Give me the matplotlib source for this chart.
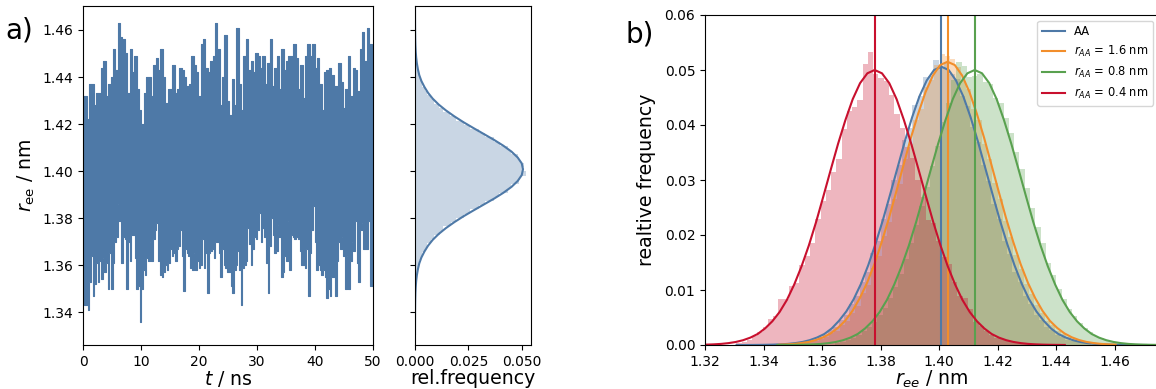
import numpy as np
import matplotlib.pyplot as plt

# ---------------- a) r_ee trace, upper / lower envelope ----------------
r_hi = [1.432, 1.432, 1.422, 1.437, 1.437, 1.428, 1.433, 1.433, 1.444, 1.447, 1.432, 1.437, 1.440,
        1.452, 1.443, 1.463, 1.457, 1.456, 1.450, 1.433, 1.452, 1.442, 1.449, 1.435, 1.426, 1.420,
        1.433, 1.440, 1.440, 1.432, 1.445, 1.448, 1.443, 1.452, 1.440, 1.429, 1.435, 1.435, 1.445,
        1.433, 1.435, 1.444, 1.443, 1.440, 1.436, 1.437, 1.449, 1.445, 1.442, 1.432, 1.454, 1.456,
        1.444, 1.442, 1.447, 1.449, 1.463, 1.452, 1.428, 1.440, 1.458, 1.430, 1.424, 1.439, 1.428,
        1.461, 1.437, 1.426, 1.449, 1.456, 1.443, 1.447, 1.442, 1.450, 1.449, 1.444, 1.449, 1.437,
        1.446, 1.456, 1.436, 1.444, 1.449, 1.435, 1.452, 1.443, 1.447, 1.449, 1.449, 1.454, 1.448,
        1.435, 1.445, 1.431, 1.449, 1.454, 1.449, 1.454, 1.444, 1.448, 1.437, 1.426, 1.442, 1.443,
        1.444, 1.441, 1.436, 1.436, 1.446, 1.438, 1.427, 1.435, 1.449, 1.432, 1.444, 1.443, 1.434,
        1.452, 1.459, 1.447, 1.461, 1.454, 1.439]
r_lo = [1.365, 1.343, 1.343, 1.341, 1.353, 1.364, 1.347, 1.352, 1.361, 1.353, 1.362, 1.354, 1.363,
        1.357, 1.361, 1.350, 1.365, 1.350, 1.361, 1.370, 1.372, 1.386, 1.379, 1.361, 1.372, 1.371,
        1.350, 1.370, 1.362, 1.373, 1.373, 1.363, 1.350, 1.351, 1.336, 1.350, 1.358, 1.356, 1.363,
        1.362, 1.370, 1.362, 1.371, 1.375, 1.378, 1.362, 1.356, 1.355, 1.357, 1.360, 1.358, 1.361,
        1.367, 1.364, 1.365, 1.362, 1.367, 1.368, 1.375, 1.364, 1.349, 1.367, 1.365, 1.364, 1.359,
        1.358, 1.365, 1.358, 1.362, 1.359, 1.360, 1.371, 1.359, 1.365, 1.348, 1.365, 1.366, 1.367,
        1.363, 1.370, 1.370, 1.365, 1.355, 1.367, 1.360, 1.359, 1.357, 1.357, 1.351, 1.348, 1.358,
        1.360, 1.366, 1.358, 1.343, 1.359, 1.360, 1.362, 1.376, 1.369, 1.360, 1.367, 1.372, 1.371,
        1.375, 1.382, 1.370, 1.376, 1.372, 1.361, 1.348, 1.368, 1.380, 1.373, 1.365, 1.366, 1.377,
        1.372, 1.355, 1.357, 1.364, 1.362, 1.379, 1.358, 1.373, 1.372, 1.371, 1.372, 1.371, 1.366,
        1.360, 1.360, 1.359, 1.367, 1.347, 1.365, 1.375, 1.385, 1.370, 1.358, 1.360, 1.358, 1.356,
        1.358, 1.355, 1.346, 1.350, 1.347, 1.355, 1.355, 1.347, 1.362, 1.370, 1.367, 1.372, 1.364,
        1.350, 1.364, 1.350, 1.362, 1.370, 1.366, 1.379, 1.361, 1.353, 1.375, 1.378, 1.367, 1.367,
        1.367, 1.379, 1.351, 1.351]
t_end = 50.0

# ---------------- histograms (relative frequency per bin) ----------------
bin_w = 0.0018
aa_start = 1.3495
aa_hist = [0.0003, 0.0004, 0.0006, 0.0008, 0.0010, 0.0015, 0.0019, 0.0027, 0.0033, 0.0046, 0.0055,
           0.0075, 0.0089, 0.0115, 0.0133, 0.0167, 0.0190, 0.0230, 0.0256, 0.0300, 0.0327, 0.0372,
           0.0395, 0.0436, 0.0452, 0.0487, 0.0490, 0.0518, 0.0505, 0.0512, 0.0492, 0.0483, 0.0452,
           0.0435, 0.0396, 0.0370, 0.0327, 0.0298, 0.0256, 0.0229, 0.0190, 0.0165, 0.0133, 0.0114,
           0.0089, 0.0074, 0.0055, 0.0046, 0.0033, 0.0027, 0.0019, 0.0015, 0.0010, 0.0008, 0.0005,
           0.0004, 0.0003]
r16_start = 1.3516
r16_hist = [0.0003, 0.0004, 0.0005, 0.0008, 0.0011, 0.0014, 0.0021, 0.0025, 0.0036, 0.0044, 0.0059,
            0.0071, 0.0094, 0.0110, 0.0140, 0.0162, 0.0199, 0.0224, 0.0266, 0.0293, 0.0339, 0.0366,
            0.0410, 0.0430, 0.0470, 0.0482, 0.0510, 0.0530, 0.0526, 0.0520, 0.0505, 0.0480, 0.0466,
            0.0430, 0.0409, 0.0366, 0.0338, 0.0294, 0.0265, 0.0225, 0.0197, 0.0163, 0.0139, 0.0111,
            0.0093, 0.0072, 0.0059, 0.0044, 0.0036, 0.0025, 0.0020, 0.0015, 0.0011, 0.0008, 0.0005,
            0.0004, 0.0003]
r08_start = 1.3645
r08_hist = [0.0004, 0.0006, 0.0009, 0.0013, 0.0018, 0.0025, 0.0032, 0.0042, 0.0054, 0.0068, 0.0086,
            0.0106, 0.0130, 0.0156, 0.0186, 0.0218, 0.0252, 0.0288, 0.0325, 0.0362, 0.0405, 0.0440,
            0.0482, 0.0515, 0.0508, 0.0488, 0.0490, 0.0492, 0.0478, 0.0475, 0.0450, 0.0440, 0.0412,
            0.0385, 0.0350, 0.0320, 0.0285, 0.0250, 0.0215, 0.0185, 0.0150, 0.0128, 0.0102, 0.0083,
            0.0066, 0.0052, 0.0040, 0.0031, 0.0023, 0.0017, 0.0013, 0.0009, 0.0007, 0.0005, 0.0004,
            0.0003, 0.0002, 0.0001, 0.0001]
r04_start = 1.3307
r04_hist = [0.0003, 0.0006, 0.0010, 0.0016, 0.0023, 0.0032, 0.0048, 0.0053, 0.0083, 0.0084, 0.0107,
            0.0113, 0.0146, 0.0161, 0.0185, 0.0230, 0.0262, 0.0281, 0.0314, 0.0338, 0.0393, 0.0426,
            0.0432, 0.0445, 0.0511, 0.0533, 0.0493, 0.0485, 0.0480, 0.0455, 0.0420, 0.0395, 0.0360,
            0.0340, 0.0300, 0.0270, 0.0228, 0.0222, 0.0190, 0.0160, 0.0147, 0.0115, 0.0090, 0.0085,
            0.0065, 0.0042, 0.0035, 0.0025, 0.0019, 0.0013, 0.0011, 0.0009, 0.0007, 0.0005, 0.0004,
            0.0003, 0.0002]

# ---------------- fitted curves, sampled every 0.0025 nm ----------------
curve_step = 0.0025
aa_curve_start = 1.3308
aa_curve = [0.0, 0.0, 0.00001, 0.00002, 0.00004, 0.00007, 0.00012, 0.0002, 0.00034, 0.00055, 0.00088,
            0.00136, 0.0020, 0.0030, 0.0044, 0.0061, 0.0083, 0.0111, 0.0145, 0.0184, 0.0227, 0.0274,
            0.0322, 0.0370, 0.0414, 0.0452, 0.0481, 0.0500, 0.0506, 0.0500, 0.0481, 0.0452, 0.0414,
            0.0370, 0.0322, 0.0274, 0.0227, 0.0184, 0.0145, 0.0111, 0.0083, 0.0061, 0.0044, 0.0030,
            0.0020, 0.00136, 0.00088, 0.00055, 0.00034, 0.0002, 0.00012, 0.00007, 0.00004, 0.00002,
            0.00001, 0.0, 0.0]
r16_curve_start = 1.3454
r16_curve = [0.00007, 0.00012, 0.0002, 0.00035, 0.00056, 0.0009, 0.0014, 0.0021, 0.0031, 0.0044,
             0.0062, 0.0085, 0.0113, 0.0147, 0.0187, 0.0231, 0.0279, 0.0328, 0.0377, 0.0421, 0.0460,
             0.0490, 0.0509, 0.0515, 0.0509, 0.0490, 0.0460, 0.0421, 0.0377, 0.0328, 0.0279, 0.0231,
             0.0187, 0.0147, 0.0113, 0.0085, 0.0062, 0.0044, 0.0031, 0.0021, 0.0014, 0.0009, 0.00056,
             0.00035, 0.0002, 0.00012, 0.00007]
r08_curve_start = 1.3447
r08_curve = [0.0, 0.00001, 0.00002, 0.00004, 0.00007, 0.00012, 0.0002, 0.00034, 0.00055, 0.00087,
             0.00134, 0.0020, 0.0030, 0.0043, 0.0060, 0.0082, 0.0110, 0.0143, 0.0181, 0.0224, 0.0271,
             0.0319, 0.0366, 0.0409, 0.0447, 0.0476, 0.0494, 0.0500, 0.0494, 0.0476, 0.0447, 0.0409,
             0.0366, 0.0319, 0.0271, 0.0224, 0.0181, 0.0143, 0.0110, 0.0082, 0.0060, 0.0043, 0.0030,
             0.0020, 0.00134, 0.00087, 0.00055, 0.00034, 0.0002, 0.00012, 0.00007, 0.00004, 0.00002]
r04_curve_start = 1.3205
r04_curve = [0.00007, 0.00012, 0.0002, 0.00034, 0.00055, 0.00087, 0.00134, 0.0020, 0.0030, 0.0043,
             0.0060, 0.0082, 0.0110, 0.0143, 0.0181, 0.0224, 0.0271, 0.0319, 0.0366, 0.0409, 0.0447,
             0.0476, 0.0494, 0.0500, 0.0494, 0.0476, 0.0447, 0.0409, 0.0366, 0.0319, 0.0271, 0.0224,
             0.0181, 0.0143, 0.0110, 0.0082, 0.0060, 0.0043, 0.0030, 0.0020, 0.00134, 0.00087,
             0.00055, 0.00034, 0.0002, 0.00012, 0.00007, 0.00004, 0.00002, 0.00001]

# mean r_ee of each distribution (vertical lines)
means = {'AA': 1.4008, '1.6': 1.4029, '0.8': 1.4122, '0.4': 1.3780}

labels = ['AA', r'$r_{AA}$ = 1.6 nm', r'$r_{AA}$ = 0.8 nm', r'$r_{AA}$ = 0.4 nm']
colors = ['#4e79a7', '#f28e2b', '#59a14f', '#c8102e']

plt.rcParams['font.size'] = 10
plt.rcParams['xtick.labelsize'] = 10
plt.rcParams['ytick.labelsize'] = 10

W, H = 1156, 389
fig = plt.figure(figsize=(W / 100, H / 100), dpi=100)

ax_t = fig.add_axes([83.3 / W, 44 / H, 289.4 / W, 339.5 / H])
ax_h = fig.add_axes([415 / W, 44 / H, 115.7 / W, 339.5 / H], sharey=ax_t)
ax_b = fig.add_axes([705 / W, 44 / H, 454 / W, 330 / H])

# --- trace ---
blue = colors[0]
t_hi = np.linspace(0, t_end, len(r_hi))
t_lo = np.linspace(0, t_end, len(r_lo))
ax_t.fill_between(t_hi, 1.40, r_hi, step='mid', color=blue, lw=0)
ax_t.fill_between(t_lo, r_lo, 1.40, step='mid', color=blue, lw=0)
ax_t.plot(t_hi, r_hi, drawstyle='steps-mid', color=blue, lw=0.8)
ax_t.plot(t_lo, r_lo, drawstyle='steps-mid', color=blue, lw=0.8)
ax_t.set_xlim(0, 50)
ax_t.set_ylim(1.3261, 1.4704)
ax_t.set_yticks([1.34, 1.36, 1.38, 1.40, 1.42, 1.44, 1.46])
ax_t.set_xticks([0, 10, 20, 30, 40, 50])
ax_t.set_xlabel(r'$t$ / ns', fontsize=13.6, labelpad=0)
ax_t.set_ylabel(r'$r_\mathrm{ee}$ / nm', fontsize=13.6, labelpad=4)

# --- side histogram ---
aa_edges = aa_start + bin_w * np.arange(len(aa_hist))
ax_h.barh(aa_edges, aa_hist, height=bin_w, align='edge', color=blue, alpha=0.3, lw=0)
aa_x = aa_curve_start + curve_step * np.arange(len(aa_curve))
ax_h.plot(aa_curve, aa_x, color=blue, lw=1.5)
ax_h.set_xlim(0, 0.0542)
ax_h.set_xticks([0.0, 0.025, 0.05])
ax_h.set_xticklabels(['0.000', '0.025', '0.050'])
ax_h.tick_params(axis='y', labelleft=False)
ax_h.set_xlabel('rel.frequency', fontsize=13.6, labelpad=0)

# --- b) distributions ---
series = [(aa_start, aa_hist, aa_curve_start, aa_curve, means['AA']),
          (r16_start, r16_hist, r16_curve_start, r16_curve, means['1.6']),
          (r08_start, r08_hist, r08_curve_start, r08_curve, means['0.8']),
          (r04_start, r04_hist, r04_curve_start, r04_curve, means['0.4'])]
for (h0, hist, c0, curve, mu), lab, col in zip(series, labels, colors):
    edges = h0 + bin_w * np.arange(len(hist))
    ax_b.bar(edges, hist, width=bin_w, align='edge', color=col, alpha=0.3, lw=0)
    xc = c0 + curve_step * np.arange(len(curve))
    ax_b.plot(xc, curve, color=col, lw=1.5, label=lab)
    ax_b.axvline(mu, color=col, lw=1.5)
ax_b.set_xlim(1.32, 1.4752)
ax_b.set_ylim(0, 0.06)
ax_b.set_xticks([1.32, 1.34, 1.36, 1.38, 1.40, 1.42, 1.44, 1.46])
ax_b.set_yticks([0.0, 0.01, 0.02, 0.03, 0.04, 0.05, 0.06])
ax_b.set_xlabel(r'$r_{ee}$ / nm', fontsize=13.6, labelpad=0)
ax_b.set_ylabel('realtive frequency', fontsize=13.6, labelpad=6)
ax_b.legend(loc='upper right', fontsize=8.3)

fig.text(5 / W, 1 - 38 / H, 'a)', fontsize=20)
fig.text(625 / W, 1 - 42 / H, 'b)', fontsize=20)

fig.savefig('out.png', dpi=100)
